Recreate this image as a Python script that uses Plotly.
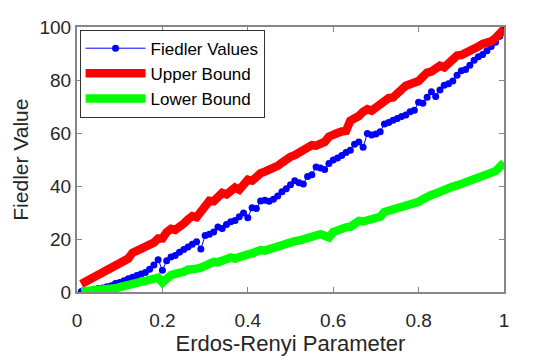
import plotly.graph_objects as go

# Erdos-Renyi edge probability (x axis)
p_values = [round(0.01 * k, 2) for k in range(1, 101)]

fiedler = [
    0.2, 0.4, 0.6, 1.0, 1.3, 1.5, 2.0, 2.4, 3.2, 3.6,
    4.2, 5.0, 5.6, 6.2, 6.8, 7.4, 8.6, 10.2, 12.2, 8.2,
    11.8, 13.2, 13.8, 15.0, 16.0, 17.0, 18.0, 19.0, 16.2, 21.3,
    21.8, 22.6, 24.5, 24.0, 25.5, 26.5, 27.0, 28.4, 29.8, 28.0,
    31.8, 31.5, 34.3, 34.6, 34.2, 35.0, 36.2, 37.8, 39.0, 40.5,
    42.0, 41.2, 40.8, 43.6, 44.2, 47.2, 46.8, 46.2, 48.5, 49.8,
    50.6, 51.5, 52.6, 53.5, 55.8, 56.6, 54.6, 59.8, 59.2, 59.6,
    60.5, 63.4, 64.0, 64.8, 65.5, 66.2, 66.8, 68.0, 68.6, 71.6,
    71.2, 73.5, 75.6, 73.8, 76.2, 78.0, 78.6, 79.6, 81.8, 83.5,
    84.0, 85.6, 87.5, 88.8, 89.6, 91.0, 92.6, 94.2, 96.5, 100.0,
]

upper_bound = [
    3.0, 3.8, 4.8, 5.6, 6.2, 7.0, 8.0, 8.8, 10.0, 10.8,
    11.8, 12.6, 14.8, 15.4, 16.4, 17.2, 18.0, 18.6, 20.2, 20.2,
    22.6, 23.8, 23.4, 25.2, 25.8, 27.4, 28.6, 28.2, 30.0, 32.8,
    34.4, 34.2, 36.4, 37.4, 36.8, 38.6, 39.4, 38.6, 41.0, 42.4,
    42.0, 44.0, 44.8, 45.4, 46.0, 47.4, 47.6, 48.8, 50.2, 51.0,
    51.6, 52.6, 52.8, 54.0, 55.4, 55.2, 55.6, 56.6, 58.6, 59.6,
    60.0, 60.6, 60.8, 64.6, 65.4, 66.4, 68.0, 69.0, 68.4, 69.6,
    71.0, 72.6, 73.2, 73.4, 75.4, 76.4, 77.8, 78.2, 79.4, 79.6,
    81.2, 82.8, 83.2, 84.6, 85.4, 84.8, 86.4, 87.8, 89.2, 89.4,
    90.0, 91.0, 91.8, 92.6, 93.6, 93.8, 94.6, 95.8, 97.2, 99.2,
]

lower_bound = [
    0.2, 0.3, 0.3, 0.4, 0.5, 0.6, 0.8, 1.0, 1.4, 1.8,
    2.2, 2.6, 3.0, 3.2, 3.6, 4.0, 4.4, 5.0, 5.4, 3.6,
    5.6, 6.4, 6.8, 7.0, 7.6, 8.4, 9.0, 8.8, 9.2, 10.0,
    10.8, 11.4, 11.2, 11.8, 12.6, 13.0, 12.6, 13.4, 14.0, 14.2,
    14.6, 15.4, 15.8, 15.6, 16.2, 17.0, 17.4, 17.8, 18.6, 19.0,
    19.2, 19.4, 20.0, 20.8, 21.0, 21.4, 21.8, 21.2, 20.6, 22.6,
    23.4, 23.8, 24.4, 24.6, 26.2, 26.8, 26.6, 27.2, 28.0, 28.0,
    28.4, 30.2, 30.6, 30.8, 31.6, 32.4, 32.8, 32.8, 33.4, 34.0,
    35.0, 36.2, 36.6, 37.2, 38.0, 38.8, 39.2, 39.8, 40.2, 40.8,
    41.6, 42.0, 42.8, 43.4, 44.0, 44.4, 45.0, 45.6, 47.2, 48.8,
]

x_ticks = [0, 0.2, 0.4, 0.6, 0.8, 1]
x_tick_labels = ["0", "0.2", "0.4", "0.6", "0.8", "1"]
y_ticks = [0, 20, 40, 60, 80, 100]

font_family = "Liberation Sans, Arial, sans-serif"
axis_grey = "#878787"
text_col = "#262626"

fig = go.Figure()

fig.add_trace(go.Scatter(x=p_values, y=fiedler, name="Fiedler Values",
                         mode="lines+markers",
                         line=dict(color="#0000ff", width=1),
                         marker=dict(color="#0000ff", size=7)))
fig.add_trace(go.Scatter(x=p_values, y=upper_bound, name="Upper Bound",
                         mode="lines", line=dict(color="#ff0000", width=8.5)))
fig.add_trace(go.Scatter(x=p_values, y=lower_bound, name="Lower Bound",
                         mode="lines", line=dict(color="#00ff00", width=8.5)))

# page body adds 8px of margin, so the figure is 8px smaller each way
fig.update_layout(
    width=549, height=348,
    margin=dict(l=69, r=53, t=19, b=64, autoexpand=False),
    paper_bgcolor="white", plot_bgcolor="white",
    font=dict(family=font_family, size=19, color=text_col),
    legend=dict(x=0.006, y=0.99, xanchor="left", yanchor="top",
                bgcolor="white", bordercolor="#333333", borderwidth=1,
                font=dict(size=17, color="black"),
                itemwidth=60, tracegroupgap=0),
    showlegend=True,
)

fig.update_xaxes(range=[0, 1], tickvals=x_ticks, ticktext=x_tick_labels,
                 showgrid=False, zeroline=False, automargin=False,
                 showline=True, linecolor=axis_grey, linewidth=2, mirror="ticks",
                 ticks="inside", ticklen=5, tickcolor=axis_grey,
                 ticklabelstandoff=10,
                 tickfont=dict(size=19, color=text_col),
                 title=dict(text="Erdos-Renyi Parameter", font=dict(size=22, color=text_col),
                            standoff=8))
fig.update_yaxes(range=[0, 100], tickvals=y_ticks,
                 showgrid=False, zeroline=False, automargin=False,
                 showline=True, linecolor=axis_grey, linewidth=2, mirror="ticks",
                 ticks="inside", ticklen=5, tickcolor=axis_grey,
                 tickfont=dict(size=19, color=text_col))

# y title as an annotation, the axis title would not sit far enough left
fig.add_annotation(text="Fiedler Value", textangle=-90,
                   xref="paper", yref="paper", x=-0.133, y=0.5,
                   xanchor="center", yanchor="middle", showarrow=False,
                   font=dict(size=21, color=text_col))

fig.write_html("out.html")
